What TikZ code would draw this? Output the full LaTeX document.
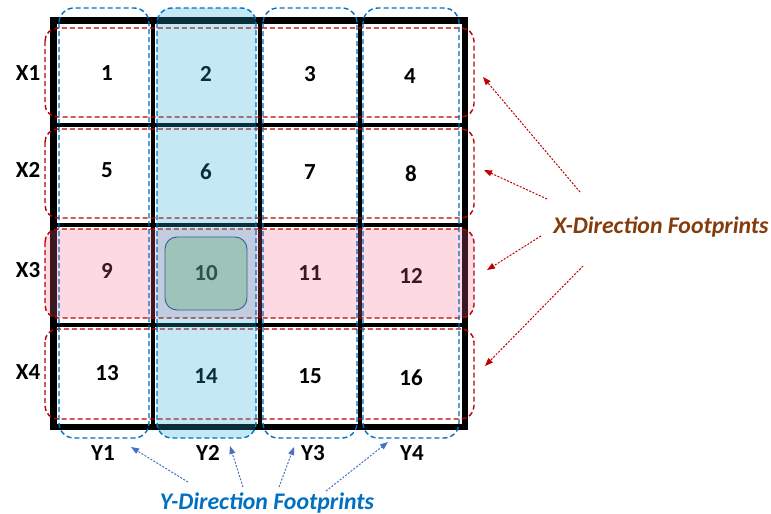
\documentclass[tikz,border=0pt]{standalone}
\usepackage{fontspec}
\setmainfont{Carlito}
\usetikzlibrary{arrows.meta}
\definecolor{fpred}{RGB}{192,0,0}
\definecolor{fpblue}{RGB}{0,112,192}
\definecolor{arblue}{RGB}{68,114,196}
\definecolor{ybluefill}{RGB}{37,174,215}
\definecolor{xpinkfill}{RGB}{245,102,143}
\definecolor{brownt}{RGB}{133,60,12}
\definecolor{tenfill}{RGB}{158,196,186}
\definecolor{tenline}{RGB}{60,90,150}
\definecolor{tentext}{RGB}{45,85,75}
\tikzset{
  cellbox/.style={fill=white,draw=none},
  num/.style={font=\fontsize{23}{26}\selectfont\bfseries,inner sep=0pt},
  axlab/.style={font=\fontsize{23}{26}\selectfont\bfseries,inner sep=0pt},
  xfoot/.style={draw=fpred,line width=1.4pt,dash pattern=on 5pt off 3pt,rounded corners=13pt},
  yfoot/.style={draw=fpblue,line width=1.4pt,dash pattern=on 5pt off 3pt,rounded corners=15pt},
  xarrow/.style={draw=fpred,line width=1pt,dash pattern=on 2pt off 1.5pt,-{Triangle[length=8pt,width=6pt]}},
  yarrow/.style={draw=arblue,line width=1pt,dash pattern=on 2pt off 1.5pt,-{Triangle[length=8pt,width=6pt]}},
}
\begin{document}
\begin{tikzpicture}[x=1pt,y=-1pt]
\useasboundingbox (0,0) rectangle (771,514);
% grid
\fill[black] (50,17) rectangle (468,430);
\foreach \xa/\xb in {57/151,155/258,262/358,362/462}{
  \foreach \ya/\yb in {24/123,127/223,227/323,327/424}{
    \fill[cellbox] (\xa,\ya) rectangle (\xb,\yb);
  }
}
% numbers
\node[num] (c1) at (107,73) {1};
\node[num] (c2) at (206,74) {2};
\node[num] (c3) at (310,74) {3};
\node[num] (c4) at (410,76) {4};
\node[num] (c5) at (107,170) {5};
\node[num] (c6) at (206,172) {6};
\node[num] (c7) at (310,172) {7};
\node[num] (c8) at (411,174) {8};
\node[num] (c9) at (107,271) {9};
\node[num] (c11) at (310,273) {11};
\node[num] (c12) at (411,276) {12};
\node[num] (c13) at (107,373) {13};
\node[num] (c14) at (206,376) {14};
\node[num] (c15) at (310,376) {15};
\node[num] (c16) at (411,378) {16};
% X footprints
\draw[xfoot] (45,28) rectangle (474,117);
\draw[xfoot] (45,129) rectangle (474,218);
\draw[xfoot,fill=xpinkfill,fill opacity=0.245] (45,229) rectangle (474,318);
\draw[xfoot] (45,329) rectangle (474,419);
% Y footprints
\draw[yfoot] (59,8) rectangle (149,438);
\draw[yfoot,fill=ybluefill,fill opacity=0.27] (157,8) rectangle (256,438);
\draw[yfoot] (263,8) rectangle (357,438);
\draw[yfoot] (363,8) rectangle (459,438);
% cell 10
\node[draw=tenline,line width=0.9pt,fill=tenfill,rounded corners=12pt,
      minimum width=82pt,minimum height=73pt,inner sep=0pt,
      text=tentext,font=\fontsize{23}{26}\selectfont\bfseries] (c10) at (206,273.5) {10};
% axis labels
\node[axlab] (x1) at (28,73) {X1};
\node[axlab] (x2) at (28,170) {X2};
\node[axlab] (x3) at (28,270) {X3};
\node[axlab] (x4) at (28,372) {X4};
\node[axlab] (y1) at (103,453) {Y1};
\node[axlab] (y2) at (208,453) {Y2};
\node[axlab] (y3) at (313,453) {Y3};
\node[axlab] (y4) at (412,453) {Y4};
% captions
\node[text=brownt,font=\fontsize{23.8}{27}\selectfont\bfseries\itshape,inner sep=0pt] (xdir) at (661,227) {X-Direction Footprints};
\node[text=fpblue,font=\fontsize{23.8}{27}\selectfont\bfseries\itshape,inner sep=0pt] (ydir) at (267,503) {Y-Direction Footprints};
% arrow ends
\coordinate (xs1) at (580,192); \coordinate (xe1) at (483,77);
\coordinate (xs2) at (547,199); \coordinate (xe2) at (484,170);
\coordinate (xs3) at (541,236); \coordinate (xe3) at (487,270);
\coordinate (xs4) at (583,266); \coordinate (xe4) at (485,366);
\draw[xarrow] (xs1) -- (xe1);
\draw[xarrow] (xs2) -- (xe2);
\draw[xarrow] (xs3) -- (xe3);
\draw[xarrow] (xs4) -- (xe4);
\coordinate (ys1) at (188,482); \coordinate (ye1) at (131,447);
\coordinate (ys2) at (243,487); \coordinate (ye2) at (230,446);
\coordinate (ys3) at (279,487); \coordinate (ye3) at (294,447);
\coordinate (ys4) at (326,491); \coordinate (ye4) at (388,442);
\draw[yarrow] (ys1) -- (ye1);
\draw[yarrow] (ys2) -- (ye2);
\draw[yarrow] (ys3) -- (ye3);
\draw[yarrow] (ys4) -- (ye4);
\end{tikzpicture}
\end{document}
